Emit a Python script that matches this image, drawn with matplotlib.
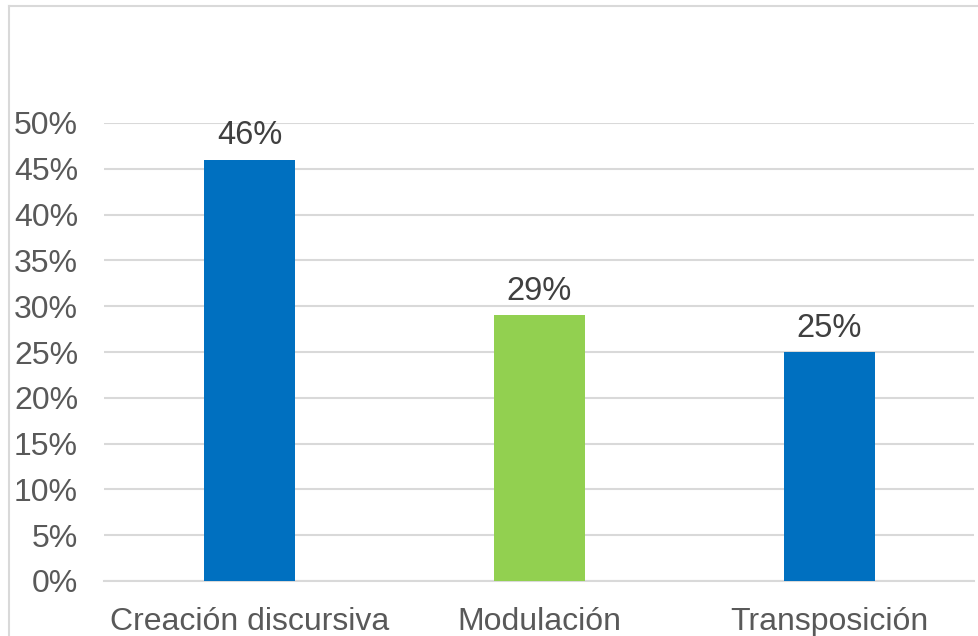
import matplotlib.pyplot as plt
from matplotlib.lines import Line2D

# data
categories = ["Creación discursiva", "Modulación", "Transposición"]
values = [0.46, 0.29, 0.25]
labels = ["46%", "29%", "25%"]
colors = ["#0070C0", "#92D050", "#0070C0"]
yticks = [0, 0.05, 0.10, 0.15, 0.20, 0.25, 0.30, 0.35, 0.40, 0.45, 0.50]

plt.rcParams['font.family'] = ['Liberation Sans', 'DejaVu Sans']

fig = plt.figure(figsize=(9.79, 6.36), dpi=100)
ax = fig.add_axes([104.5 / 979, 55 / 636, 870 / 979, 458 / 636])

# outer chart border (cropped on right and bottom)
fig.add_artist(Line2D([9 / 979, 9 / 979], [0, 1 - 6 / 636], color="#D9D9D9", lw=1.5))
fig.add_artist(Line2D([9 / 979, 1], [1 - 6 / 636, 1 - 6 / 636], color="#D9D9D9", lw=1.5))

x = range(len(categories))
ax.bar(x, values, width=0.314, color=colors, zorder=3)
for i, v in enumerate(values):
    ax.text(i, v + 0.009, labels[i], ha="center", va="bottom", fontsize=23.5, color="#404040")

ax.set_xlim(-0.5, 2.5)
ax.set_ylim(0, 0.5)
ax.set_yticks(yticks)
ax.set_yticklabels([f"{round(t * 100)}%" for t in yticks])
ax.set_xticks(list(x))
ax.set_xticklabels(categories)
ax.tick_params(axis="y", length=0, pad=19, labelsize=23, labelcolor="#595959")
ax.tick_params(axis="x", length=0, pad=19, labelsize=23, labelcolor="#595959")
ax.yaxis.grid(True, color="#D9D9D9", lw=1.5, zorder=0)
for s in ["top", "right", "left"]:
    ax.spines[s].set_visible(False)
ax.spines["bottom"].set_color("#D9D9D9")
ax.spines["bottom"].set_linewidth(1.5)

plt.savefig("out.png", dpi=100)
